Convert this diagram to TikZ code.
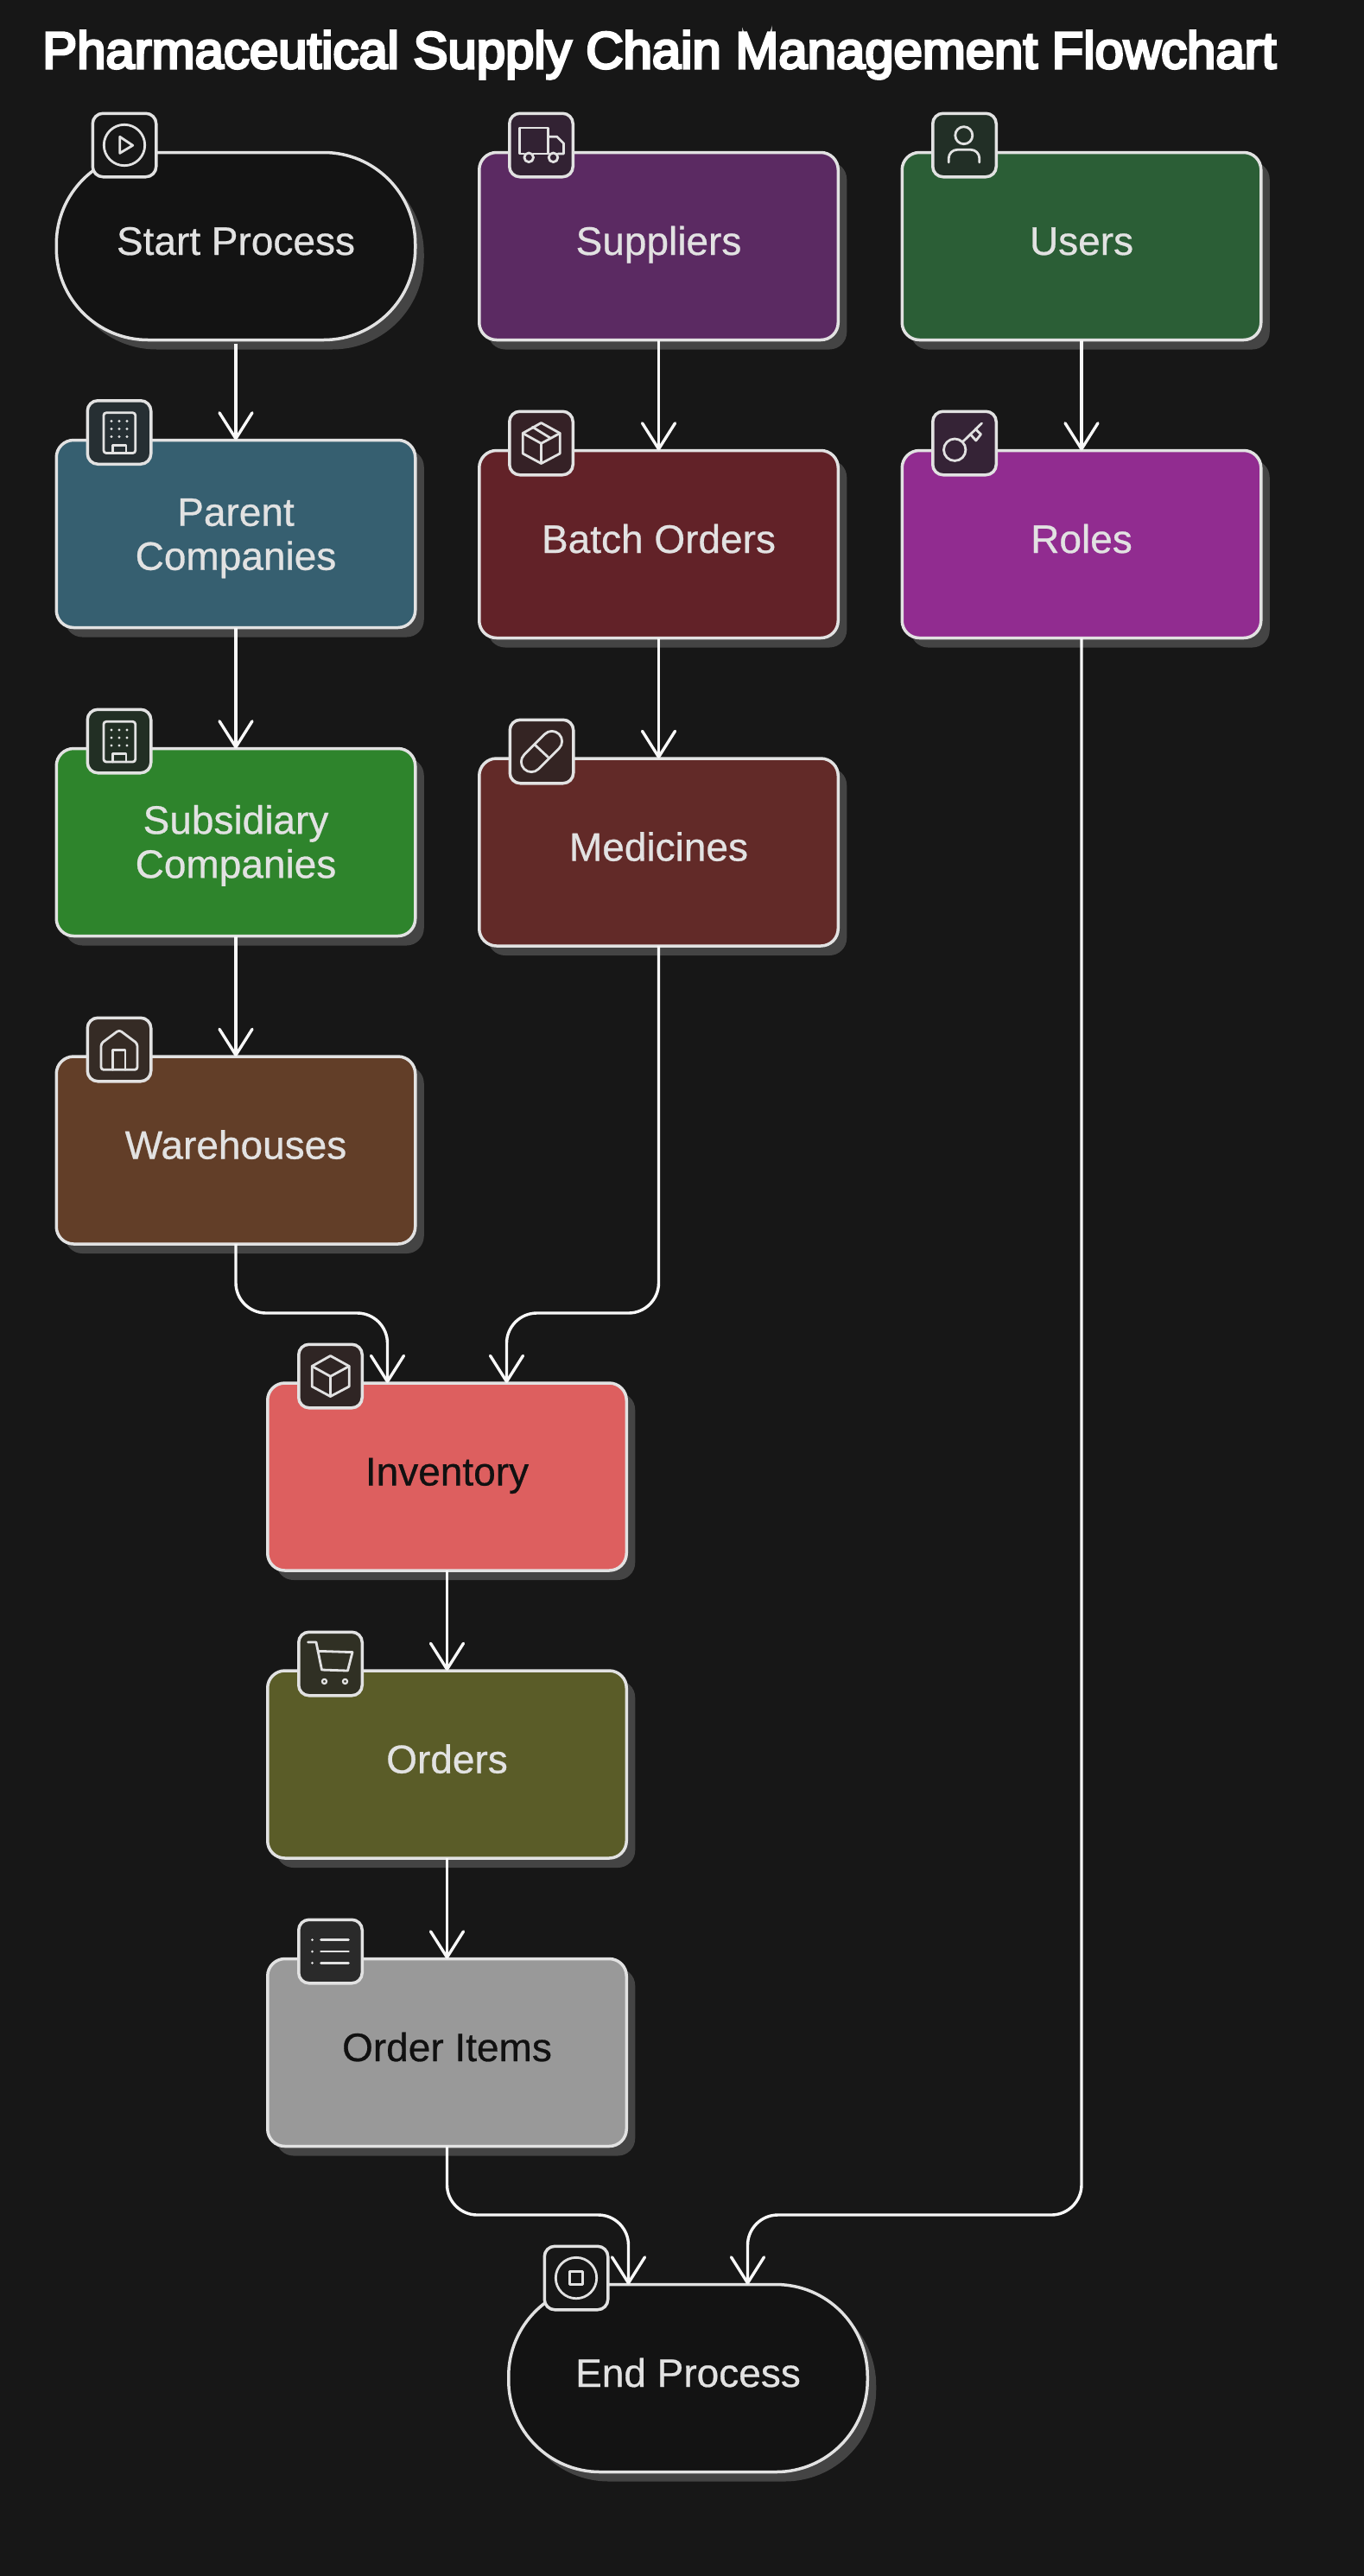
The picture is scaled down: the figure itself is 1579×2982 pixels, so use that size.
\documentclass[tikz,border=0pt]{standalone}
\usepackage{fontspec}
\setmainfont[FakeBold=0.6]{Liberation Sans}
\newfontfamily\titlefont[FakeBold=5]{Liberation Sans}
\usetikzlibrary{arrows.meta,shadows,calc}
\definecolor{bgc}{HTML}{171717}
\definecolor{edgec}{HTML}{E2E2E2}
\definecolor{shadowc}{HTML}{444444}
\definecolor{linec}{HTML}{F8F8F8}
\definecolor{darktext}{HTML}{111111}
\definecolor{fstart}{HTML}{131313}
\definecolor{fsupp}{HTML}{5B2A62}
\definecolor{fusers}{HTML}{2B5E36}
\definecolor{fbatch}{HTML}{622228}
\definecolor{froles}{HTML}{912C90}
\definecolor{fparent}{HTML}{365F70}
\definecolor{fsubs}{HTML}{2E842C}
\definecolor{fmed}{HTML}{622A28}
\definecolor{fware}{HTML}{623E28}
\definecolor{finv}{HTML}{DD5F5F}
\definecolor{forders}{HTML}{5A5C28}
\definecolor{fitems}{HTML}{999999}
\definecolor{bstart}{HTML}{171717}
\definecolor{bsupp}{HTML}{322233}
\definecolor{busers}{HTML}{222F26}
\definecolor{bbatch}{HTML}{352126}
\definecolor{broles}{HTML}{352336}
\definecolor{bparent}{HTML}{262F33}
\definecolor{bsubs}{HTML}{222F24}
\definecolor{bmed}{HTML}{342423}
\definecolor{bware}{HTML}{352B25}
\definecolor{binv}{HTML}{2F2524}
\definecolor{borders}{HTML}{303024}
\definecolor{bitems}{HTML}{2A2A2A}
\tikzset{
  x=1pt,y=-1pt,
  card/.style={draw=edgec,line width=3.5pt,fill=#1,rounded corners=20pt,outer sep=0pt,inner sep=0pt,
    minimum width=415.5pt,minimum height=217pt,text=edgec,align=center,
    font=\fontsize{46}{51}\selectfont,
    drop shadow={shadow xshift=10pt,shadow yshift=-11pt,fill=shadowc,opacity=1}},
  oneline/.style={text height=33pt,text depth=13pt},
  pillcard/.style={card=#1,rounded corners=106pt},
  badge/.style={draw=edgec,line width=3.5pt,fill=#1,rounded corners=12pt,outer sep=0pt,inner sep=0pt,
    minimum width=73.5pt,minimum height=73.5pt},
  conn/.style={draw=linec,line width=3.4pt,rounded corners=35pt,
    -{Straight Barb[length=30pt,width=38pt,round]}},
  icn/.style={draw=edgec,line width=2.8pt,line join=round,line cap=round},
  dot/.style={fill=edgec,draw=none},
}
\newcommand{\iconplay}[1]{\begin{scope}[shift={(#1.center)}]
  \draw[icn] (0,0) circle[radius=23.7];
  \draw[icn] (-5.3,-9.7) -- (9.7,0.3) -- (-5.3,9.3) -- cycle;
\end{scope}}
\newcommand{\iconstop}[1]{\begin{scope}[shift={(#1.center)}]
  \draw[icn] (0,0) circle[radius=23.7];
  \draw[icn] (-7.3,-7.3) rectangle (7.3,7.3);
\end{scope}}
\newcommand{\icontruck}[1]{\begin{scope}[shift={(#1.center)}]
  \draw[icn] (-20,10) -- (-25,10) -- (-25,-20) -- (8.3,-20) -- (8.3,10) -- (-9,10);
  \draw[icn] (8.3,-9.7) -- (18.3,-9.7) -- (26,-2) -- (26,10) -- (19.5,10);
  \draw[icn] (-14.3,14.3) circle[radius=5.3];
  \draw[icn] (14,14.3) circle[radius=5.3];
\end{scope}}
\newcommand{\iconuser}[1]{\begin{scope}[shift={(#1.center)}]
  \draw[icn] (-0.7,-11.3) circle[radius=10];
  \draw[icn,rounded corners=10pt] (-18.3,20) -- (-18.3,5.3) -- (17.3,5.3) -- (17.3,20);
\end{scope}}
\newcommand{\iconbuilding}[1]{\begin{scope}[shift={(#1.center)}]
  \draw[icn,rounded corners=3pt] (-18,-22.7) rectangle (18.7,24);
  \draw[icn] (-7.3,24) -- (-7.3,14.7) -- (8,14.7) -- (8,24);
  \foreach \px in {-9,0,9} \foreach \py in {-13,-4,5}
    \fill[dot] (\px,\py) circle[radius=1.6];
\end{scope}}
\newcommand{\iconcube}[1]{\begin{scope}[shift={(#1.center)}]
  \draw[icn] (0,-23.5) -- (21.7,-11.5) -- (21.7,12) -- (0,23.5) -- (-21.3,12) -- (-21.3,-11.5) -- cycle;
  \draw[icn] (-21.3,-11.5) -- (0,0.3) -- (21.7,-11.5);
  \draw[icn] (0,0.3) -- (0,23.5);
\end{scope}}
\newcommand{\iconpackage}[1]{\iconcube{#1}\begin{scope}[shift={(#1.center)}]
  \draw[icn] (-10,-18.7) -- (10,-6.3);
\end{scope}}
\newcommand{\iconkey}[1]{\begin{scope}[shift={(#1.center)}]
  \draw[icn] (-11.3,7.7) circle[radius=12.7];
  \draw[icn] (-2.3,-1.3) -- (20,-23);
  \draw[icn] (12.7,-16.3) -- (19,-10.3) -- (13.3,-3) -- (7.3,-9.7);
\end{scope}}
\newcommand{\iconpill}[1]{\begin{scope}[shift={(#1.center)}]
  \draw[icn,rotate=45,rounded corners=11.6pt] (-28.5,-11.7) rectangle (28.5,11.7);
  \draw[icn] (-7.7,-7.7) -- (7.7,6.7);
\end{scope}}
\newcommand{\iconhouse}[1]{\begin{scope}[shift={(#1.center)}]
  \draw[icn,rounded corners=3pt] (-21,-7) -- (0,-22.7) -- (21,-7) -- (21,23.3) -- (-21,23.3) -- cycle;
  \draw[icn] (-7.3,23.3) -- (-7.3,0.7) -- (7,0.7) -- (7,23.3);
\end{scope}}
\newcommand{\iconcart}[1]{\begin{scope}[shift={(#1.center)}]
  \draw[icn] (-26,-25) -- (-16.5,-25) -- (-10,7) -- (20,8) -- (25.5,-13.4) -- (-14.7,-14.7);
  \draw[icn,line width=2.2pt] (-7,20.4) circle[radius=2.6];
  \draw[icn,line width=2.2pt] (17,20.4) circle[radius=2.6];
\end{scope}}
\newcommand{\iconlist}[1]{\begin{scope}[shift={(#1.center)}]
  \foreach \py in {-13.4,0,13.4} {
    \draw[icn] (-11,\py) -- (21,\py);
    \fill[dot] (-21,\py) circle[radius=1.5];
  }
\end{scope}}
\begin{document}
\begin{tikzpicture}
\fill[bgc] (0,0) rectangle (1579,2982);
\useasboundingbox (0,0) rectangle (1579,2982);

\node[anchor=base west,text=white,inner sep=0pt,font=\titlefont\fontsize{59.9}{66}\selectfont] (title) at (49,79)
  {Pharmaceutical Supply Chain Management Flowchart};

% boxes
\node[pillcard=fstart,oneline] (start) at (273,285) {Start Process};
\node[card=fparent] (parent) at (273,618) {\rule{0pt}{42pt}Parent\\Companies};
\node[card=fsubs] (subs) at (273,975) {\rule{0pt}{41pt}Subsidiary\\Companies};
\node[card=fware,oneline] (ware) at (273,1331.5) {Warehouses};
\node[card=fsupp,oneline] (supp) at (762.5,285) {Suppliers};
\node[card=fbatch,oneline] (batch) at (762.5,630) {Batch Orders};
\node[card=fmed,oneline] (med) at (762.5,986.5) {Medicines};
\node[card=fusers,oneline] (users) at (1252,285) {Users};
\node[card=froles,oneline] (roles) at (1252,630) {Roles};
\node[card=finv,oneline,text=darktext] (inv) at (517.5,1709.5) {Inventory};
\node[card=forders,oneline] (orders) at (517.5,2042.5) {Orders};
\node[card=fitems,oneline,text=darktext] (items) at (517.5,2376) {Order Items};
\node[pillcard=fstart,oneline] (finish) at (796.5,2753) {End Process};

% connector ends and routing rows
\coordinate (invL) at ([xshift=-69pt]inv.north);
\coordinate (invR) at ([xshift=69pt]inv.north);
\coordinate (finL) at ([xshift=-69pt]finish.north);
\coordinate (finR) at ([xshift=69pt]finish.north);
\coordinate (rowA) at (0,1520);
\coordinate (rowB) at (0,2564);

% connectors
\draw[conn,shorten <=4pt] (start.south) -- (parent.north);
\draw[conn] (parent.south) -- (subs.north);
\draw[conn] (subs.south) -- (ware.north);
\draw[conn] (supp.south) -- (batch.north);
\draw[conn] (batch.south) -- (med.north);
\draw[conn] (users.south) -- (roles.north);
\draw[conn] (inv.south) -- (orders.north);
\draw[conn] (orders.south) -- (items.north);
\draw[conn] (ware.south) -- (ware.south |- rowA) -- (invL |- rowA) -- (invL);
\draw[conn] (med.south) -- (med.south |- rowA) -- (invR |- rowA) -- (invR);
\draw[conn] (items.south) -- (items.south |- rowB) -- (finL |- rowB) -- (finL);
\draw[conn] (roles.south) -- (roles.south |- rowB) -- (finR |- rowB) -- (finR);

% badges
\node[badge=bstart] (istart) at (144,168) {};
\node[badge=bparent] (iparent) at (138,500.5) {};
\node[badge=bsubs] (isubs) at (138,858) {};
\node[badge=bware] (iware) at (138,1215) {};
\node[badge=bsupp] (isupp) at (626.5,168) {};
\node[badge=bbatch] (ibatch) at (626.5,513) {};
\node[badge=bmed] (imed) at (627,870) {};
\node[badge=busers] (iusers) at (1116.5,168) {};
\node[badge=broles] (iroles) at (1116.5,513) {};
\node[badge=binv] (iinv) at (382.5,1593) {};
\node[badge=borders] (iorders) at (382.5,1926) {};
\node[badge=bitems] (iitems) at (382.5,2259) {};
\node[badge=bstart] (ifinish) at (667,2637) {};

\iconplay{istart}
\iconbuilding{iparent}
\iconbuilding{isubs}
\iconhouse{iware}
\icontruck{isupp}
\iconpackage{ibatch}
\iconpill{imed}
\iconuser{iusers}
\iconkey{iroles}
\iconcube{iinv}
\iconcart{iorders}
\iconlist{iitems}
\iconstop{ifinish}
\end{tikzpicture}
\end{document}
